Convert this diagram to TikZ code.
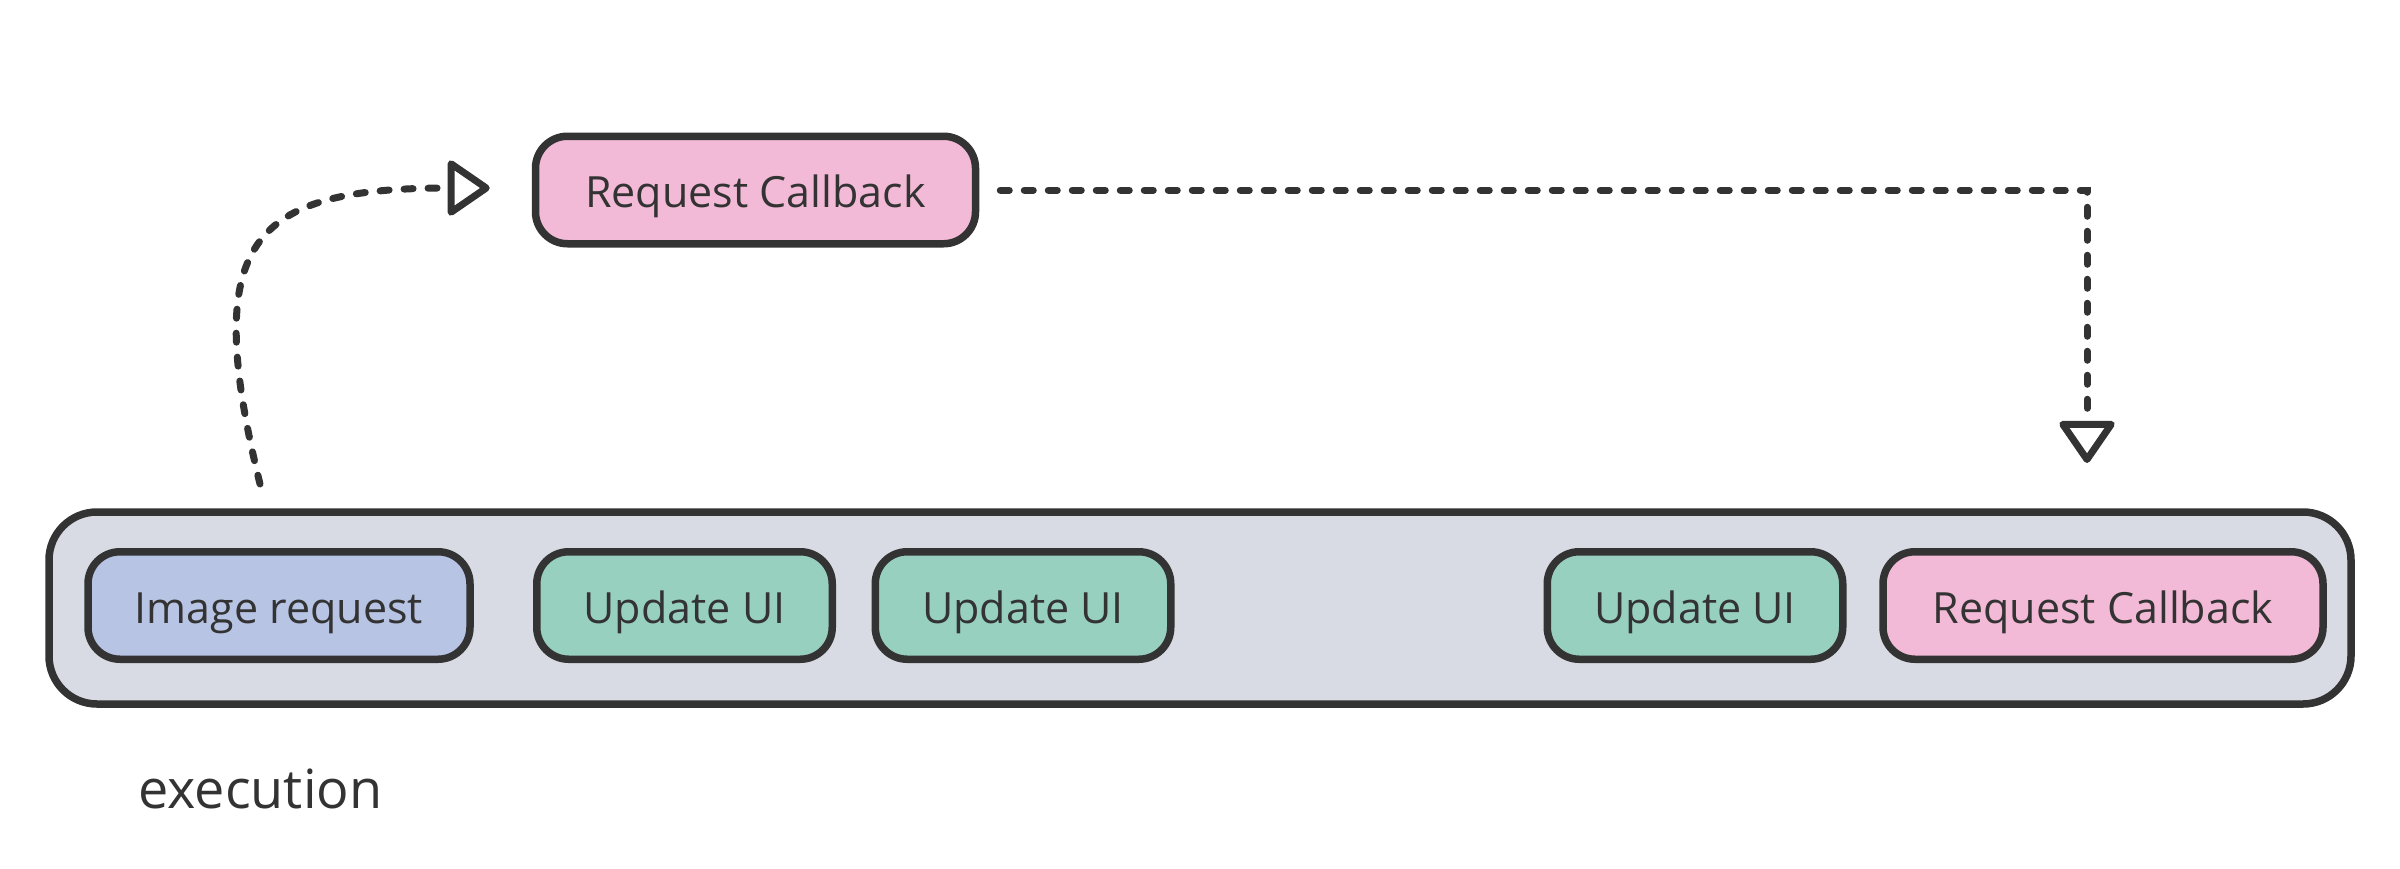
\documentclass[tikz,border=0pt]{standalone}
\usepackage{fontspec}
\setmainfont{Open Sans}
\usetikzlibrary{arrows.meta,calc}
\definecolor{ink}{HTML}{333333}
\definecolor{outerfill}{HTML}{D8DBE3}
\definecolor{bluefill}{HTML}{B8C4E4}
\definecolor{greenfill}{HTML}{98D0C0}
\definecolor{pinkfill}{HTML}{F2BAD6}
\begin{document}
\begin{tikzpicture}[x=0.5pt,y=-0.5pt,
  container/.style={draw=ink, fill=outerfill, line width=3.75pt, rounded corners=24pt,
    minimum width=1151pt, minimum height=96pt, inner sep=0pt},
  box/.style={draw=ink, line width=3.75pt, rounded corners=16pt, minimum height=53.75pt,
    text=ink, font=\fontsize{21.5}{26}\selectfont, inner sep=0pt,
    text height=17.9pt, text depth=0pt},
  bluebox/.style={box, fill=bluefill, minimum width=191pt},
  greenbox/.style={box, fill=greenfill, minimum width=147.75pt},
  pinkbox/.style={box, fill=pinkfill, minimum width=220pt},
  conn/.style={draw=ink, line width=3.5pt, line cap=round, dash pattern=on 4.5pt off 7.5pt,
    -{Triangle[open, length=22.5pt, width=30pt, line join=round]}},
  lbl/.style={text=ink, font=\fontsize{27}{32}\selectfont, inner sep=0pt}
]
\useasboundingbox (0,0) rectangle (2400,868);
\node[container] (exec) at (1200,608) {};
\node[bluebox] (img) at (279,605.5) {Image request};
\node[greenbox] (up1) at (684.5,605.5) {Update UI};
\node[greenbox] (up2) at (1023,605.5) {Update UI};
\node[greenbox] (up3) at (1695,605.5) {Update UI};
\node[pinkbox] (cb) at (2103,605.5) {Request Callback};
\node[pinkbox] (top) at (755.5,190) {Request Callback};
\node[lbl, anchor=base west] (lab) at (138,808) {execution};
\coordinate (s1) at (260,484);
\coordinate (t1) at ($(top.west)+(-42,-2)$);
\coordinate (s2) at ($(top.east)+(21,0)$);
\coordinate (t2) at (2087,463);
\draw[conn] (s1) .. controls (200,240) and (250,188) .. (t1);
\draw[conn] (s2) -| (t2);
\end{tikzpicture}
\end{document}
